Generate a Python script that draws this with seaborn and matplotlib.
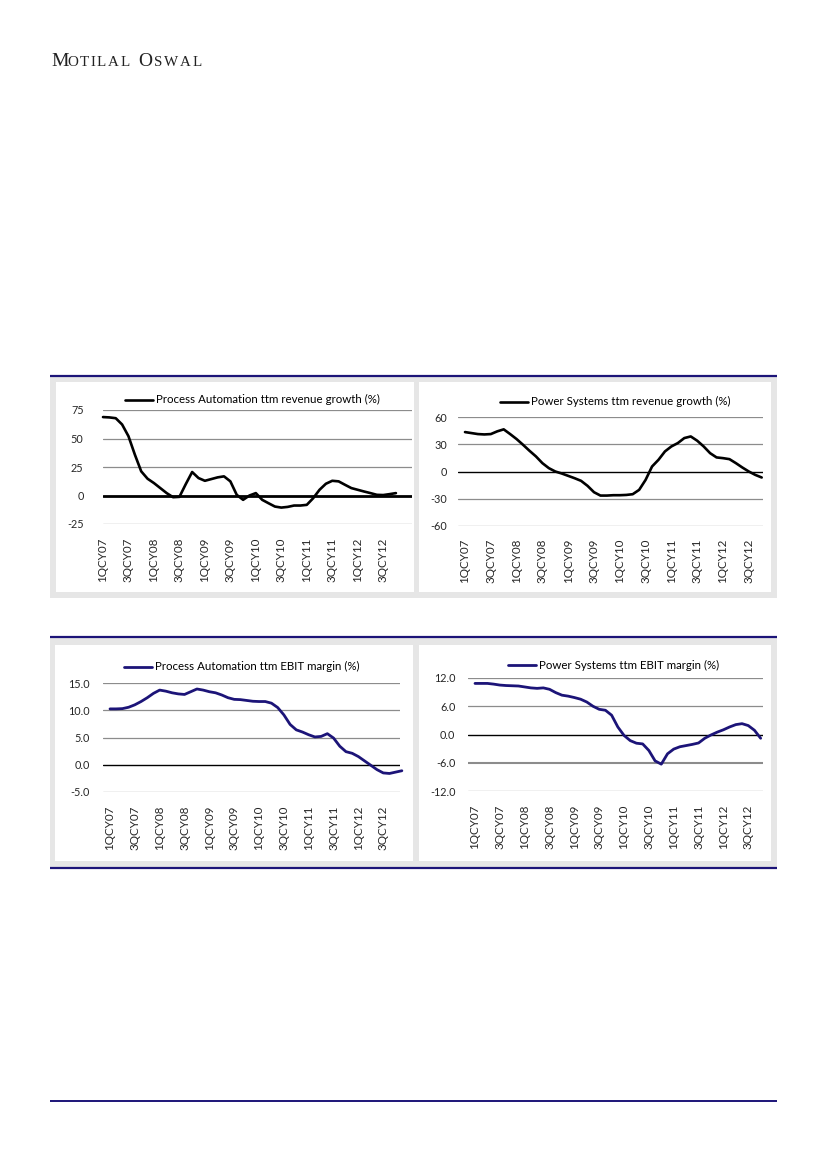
import numpy as np
import seaborn as sns
import matplotlib.pyplot as plt
from matplotlib.patches import Rectangle
from matplotlib.lines import Line2D

# tick labels (every second quarter is labelled)
tick_labels = ["1QCY07", "3QCY07", "1QCY08", "3QCY08", "1QCY09", "3QCY09",
               "1QCY10", "3QCY10", "1QCY11", "3QCY11", "1QCY12", "3QCY12"]

# values read at half-quarter steps from 1QCY07
pa_rev = [68.8, 68.5, 67.8, 62.3, 52.0, 35.9, 21.2, 14.7, 10.9, 6.5, 2.1, -1.5,
          -1.2, 10.0, 20.6, 15.3, 12.9, 14.4, 15.9, 16.8, 12.4, 0.6, -3.8, 0.0,
          2.1, -3.8, -6.8, -9.7, -10.6, -10.0, -8.8, -8.8, -8.2, -2.4, 5.0, 10.3,
          12.9, 12.4, 9.4, 6.5, 5.0, 3.5, 2.1, 0.6, 0.4, 1.2, 2.1]
ps_rev = [43.4, 42.3, 41.2, 40.8, 41.2, 44.2, 46.4, 41.2, 35.7, 29.4, 22.8, 16.6,
          9.2, 3.7, 0.0, -2.2, -4.8, -7.4, -10.3, -15.8, -22.8, -26.5, -26.5, -26.1,
          -26.1, -25.8, -25.0, -20.2, -9.2, 5.5, 12.9, 22.1, 27.6, 31.3, 36.8, 38.6,
          33.9, 27.6, 20.2, 15.5, 14.7, 13.6, 9.2, 4.4, 0.0, -3.7, -6.6]
pa_ebit = [10.25, 10.25, 10.3, 10.55, 11.0, 11.6, 12.3, 13.1, 13.7, 13.5, 13.2, 13.0,
           12.9, 13.4, 13.9, 13.7, 13.4, 13.2, 12.8, 12.3, 12.0, 11.95, 11.8, 11.65,
           11.6, 11.6, 11.3, 10.5, 9.15, 7.4, 6.4, 6.0, 5.5, 5.1, 5.2, 5.7,
           4.9, 3.4, 2.4, 2.1, 1.5, 0.7, -0.1, -0.9, -1.5, -1.6, -1.35, -1.1]
ps_ebit = [10.85, 10.85, 10.85, 10.7, 10.5, 10.4, 10.35, 10.3, 10.1, 9.9, 9.8, 9.9,
           9.6, 8.9, 8.35, 8.15, 7.85, 7.5, 6.9, 6.0, 5.35, 5.15, 4.1, 1.6,
           -0.2, -1.3, -1.85, -2.0, -3.4, -5.6, -6.3, -4.1, -3.1, -2.6, -2.35, -2.1,
           -1.8, -0.8, -0.1, 0.5, 1.0, 1.6, 2.1, 2.3, 1.9, 0.9, -0.8]

sns.set_style("white")
plt.rcParams['font.family'] = ['Lato', 'DejaVu Sans']

W, H = 826, 1169
NAVY = "#1c1478"
GREY_BG = "#e6e6e6"
fig = plt.figure(figsize=(W / 100, H / 100), dpi=100)
renderer = fig.canvas.get_renderer()


def fbox(l, t, r, b):
    return [l / W, 1 - b / H, (r - l) / W, (b - t) / H]


def rect(l, t, r, b, color):
    fig.add_artist(Rectangle((l / W, 1 - b / H), (r - l) / W, (b - t) / H,
                             transform=fig.transFigure, facecolor=color,
                             edgecolor='none', zorder=0))


def hrule(x0, x1, y, color, lw):
    fig.add_artist(Line2D([x0 / W, x1 / W], [1 - y / H] * 2, color=color, lw=lw,
                          transform=fig.transFigure, solid_capstyle='butt'))


def spaced(x, y, word, size, track):
    # small-caps style letters with extra letter spacing
    for ch in word:
        t = fig.text(x / W, 1 - y / H, ch, fontsize=size, family='Liberation Serif',
                     va='baseline', color='#222222')
        x += t.get_window_extent(renderer).width + track
    return x


# header
spaced(51, 65.5, "M", 14, 1.5)
spaced(67, 65.5, "OTILAL", 10.8, 1.7)
spaced(138, 65.5, "O", 14, 1.5)
spaced(154, 65.5, "SWAL", 10.8, 1.7)

# chart frames
rect(50, 376, 777, 597.5, GREY_BG)
rect(56, 382, 413.5, 592, 'white')
rect(419, 382, 771, 592, 'white')
hrule(50, 777, 375.5, NAVY, 1.6)

rect(50, 637.5, 777, 866.5, GREY_BG)
rect(55, 645, 413.5, 861, 'white')
rect(419, 645, 771, 861, 'white')
hrule(50, 777, 636.5, NAVY, 1.6)
hrule(50, 777, 867.5, NAVY, 1.6)

hrule(50, 777, 1100.5, NAVY, 1.4)

panels = [
    dict(vals=pa_rev, box=(103, 410, 412, 524), x0=100, step=12.86,
         yticks=[-25, 0, 25, 50, 75], fmt="{:.0f}", color='black', lw=1.9,
         zero_lw=2.0, ypad=14, xpad=10, heavy=None,
         label="Process Automation ttm revenue growth (%)", leg=(125, 153, 399.5)),
    dict(vals=ps_rev, box=(458, 417, 763, 526), x0=465, step=12.9,
         yticks=[-60, -30, 0, 30, 60], fmt="{:.0f}", color='black', lw=1.9,
         zero_lw=1.0, ypad=8, xpad=9, heavy=None,
         label="Power Systems ttm revenue growth (%)", leg=(500, 528, 401.5)),
    dict(vals=pa_ebit, box=(103, 683, 400, 792), x0=110, step=12.42,
         yticks=[-5, 0, 5, 10, 15], fmt="{:.1f}", color=NAVY, lw=2.0,
         zero_lw=1.0, ypad=9.5, xpad=10, heavy=None,
         label="Process Automation ttm EBIT margin (%)", leg=(124, 152, 666.5)),
    dict(vals=ps_ebit, box=(468, 678, 763, 791), x0=475, step=12.42,
         yticks=[-12, -6, 0, 6, 12], fmt="{:.1f}", color=NAVY, lw=2.0,
         zero_lw=1.0, ypad=9, xpad=10, heavy=-6,
         label="Power Systems ttm EBIT margin (%)", leg=(508, 536, 665)),
]

for p in panels:
    l, t, r, b = p['box']
    ax = fig.add_axes(fbox(l, t, r, b))
    ax.set_facecolor('none')
    x = np.arange(len(p['vals'])) * 0.5
    for yv in p['yticks']:
        if yv == 0:
            ax.axhline(0, color='black', lw=p['zero_lw'], zorder=2)
        elif yv == p['heavy']:
            ax.axhline(yv, color='#8c8c8c', lw=1.5, zorder=1)
        else:
            ax.axhline(yv, color='#8c8c8c', lw=0.9, zorder=1)
    sns.lineplot(x=x, y=p['vals'], ax=ax, color=p['color'], lw=p['lw'],
                 zorder=3, clip_on=False)
    ax.set_xlim((l - p['x0']) / p['step'], (r - p['x0']) / p['step'])
    ax.set_ylim(p['yticks'][0], p['yticks'][-1])
    ax.set_yticks(p['yticks'])
    ax.set_yticklabels([p['fmt'].format(v) for v in p['yticks']], fontsize=7.8)
    ax.set_xticks(np.arange(len(tick_labels)) * 2)
    ax.set_xticklabels(tick_labels, rotation=90, fontsize=8.4)
    ax.tick_params(axis='y', length=0, pad=p['ypad'])
    ax.tick_params(axis='x', length=0, pad=p['xpad'])
    ax.grid(False)
    for s in ax.spines.values():
        s.set_visible(False)
    x0, x1, ly = p['leg']
    fig.add_artist(Line2D([x0 / W, x1 / W], [1 - ly / H] * 2, color=p['color'],
                          lw=p['lw'], transform=fig.transFigure))
    fig.text((x1 + 3) / W, 1 - ly / H, p['label'], fontsize=8.3, va='center',
             ha='left', color='black')

fig.savefig("out.png", dpi=100)
